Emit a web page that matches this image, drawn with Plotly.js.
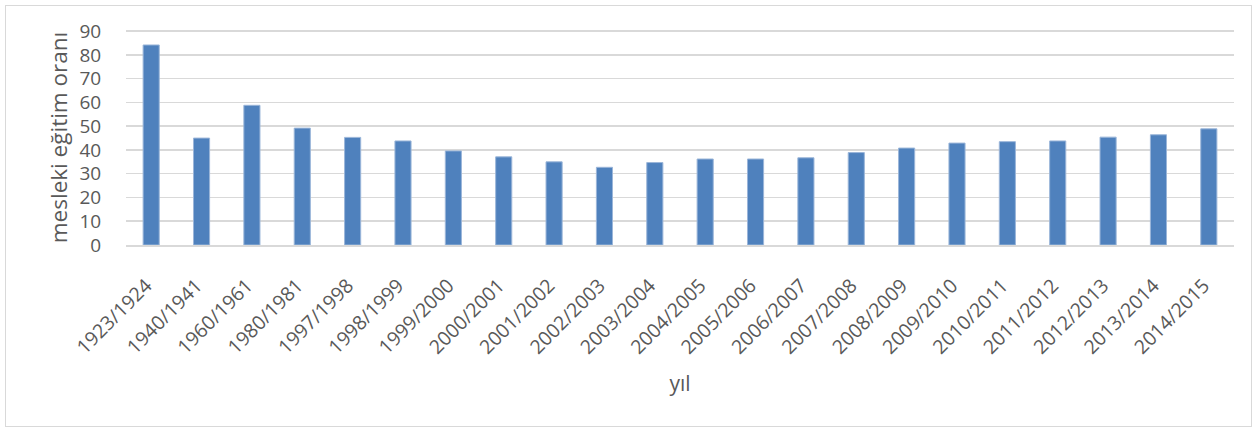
<!DOCTYPE html>
<html>
<head>
<meta charset="utf-8">
<script src="https://cdn.plot.ly/plotly-3.0.1.min.js"></script>
<style>
html,body{margin:0;padding:0;background:#fff;}
#frame{position:absolute;left:5px;top:5px;width:1247px;height:422px;border:1.5px solid #d9d9d9;box-sizing:border-box;}
#chart{position:absolute;left:0;top:0;width:1260px;height:433px;}
</style>
</head>
<body>
<div id="frame"></div>
<div id="chart"></div>
<script>
const years = ["1923/1924","1940/1941","1960/1961","1980/1981","1997/1998","1998/1999","1999/2000","2000/2001","2001/2002","2002/2003","2003/2004","2004/2005","2005/2006","2006/2007","2007/2008","2008/2009","2009/2010","2010/2011","2011/2012","2012/2013","2013/2014","2014/2015"];
const rates = [84.2,45.0,58.8,49.2,45.3,43.8,39.6,37.1,35.0,32.7,34.7,36.2,36.2,36.7,38.9,40.8,42.9,43.5,43.8,45.4,46.4,48.9];
const yTicks = [0,10,20,30,40,50,60,70,80,90];

const font = "Open Sans, Liberation Sans, sans-serif";
Plotly.newPlot('chart', [{
  type: 'bar',
  x: years,
  y: rates,
  marker: {color: '#4F81BD', line: {color: '#9bb6d9', width: 1}},
  hoverinfo: 'x+y'
}], {
  width: 1260, height: 433,
  margin: {l: 126, r: 26, t: 30, b: 188},
  paper_bgcolor: 'rgba(0,0,0,0)',
  plot_bgcolor: 'rgba(0,0,0,0)',
  bargap: 0.68,
  showlegend: false,
  font: {family: font, color: '#595959'},
  xaxis: {
    type: 'category',
    tickangle: -45,
    tickfont: {size: 19.5, color: '#595959'},
    ticklabelshift: -5,
    showgrid: false,
    showline: true,
    linecolor: '#d9d9d9',
    linewidth: 1.5,
    ticks: 'outside',
    ticklen: 20,
    tickcolor: 'rgba(0,0,0,0)',
    title: {text: 'yıl', font: {size: 21, color: '#595959'}, standoff: 18}
  },
  yaxis: {
    range: [0, 90.5],
    tickvals: yTicks,
    tickfont: {size: 19, color: '#595959'},
    showgrid: true,
    gridcolor: '#d9d9d9',
    gridwidth: 1.5,
    zeroline: false,
    showline: false,
    ticks: 'outside',
    ticklen: 20,
    tickcolor: 'rgba(0,0,0,0)',
    title: {text: 'mesleki eğitim oranı', font: {size: 22.5, color: '#595959'}, standoff: 5}
  }
}, {displayModeBar: false, staticPlot: true});
</script>
</body>
</html>
